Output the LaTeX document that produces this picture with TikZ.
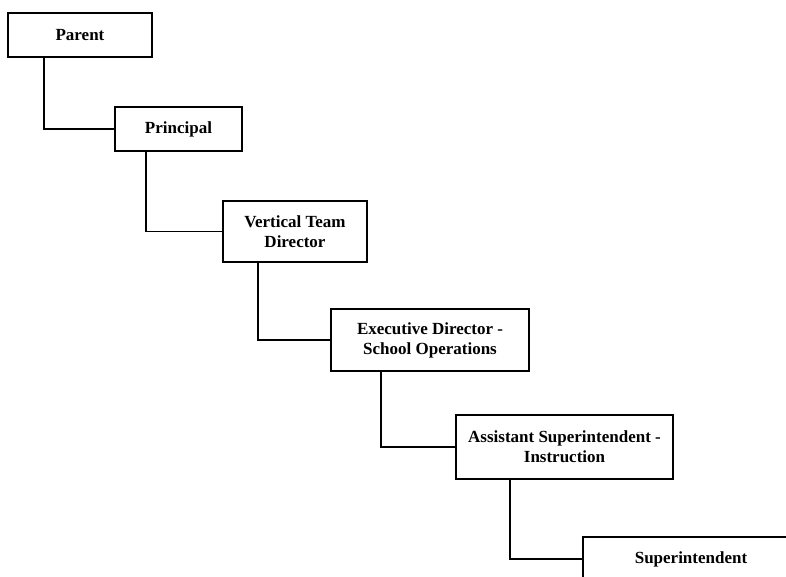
\documentclass[tikz,border=0pt]{standalone}
\usepackage{fontspec}
\setmainfont{Liberation Serif}
\begin{document}
\begin{tikzpicture}[x=1pt,y=-1pt,
  orgbox/.style={draw=black, line width=1.6pt, fill=white, inner sep=0pt,
    align=center, font=\fontsize{17}{20}\selectfont\bfseries},
  link/.style={draw=black, line width=1.6pt}]
  \useasboundingbox (0,0) rectangle (786,576);
  \clip (0,0) rectangle (786,576);

  % chain of boxes, each stepping down and to the right
  \node[orgbox, minimum width=144pt, minimum height=44pt] (parent) at (80,35) {Parent};
  \node[orgbox, minimum width=127pt, minimum height=44pt] (principal) at (178.5,129) {Principal};
  \node[orgbox, minimum width=144pt, minimum height=61pt] (vtd) at (295,231.5) {Vertical Team\\Director};
  \node[orgbox, minimum width=198pt, minimum height=62pt] (exec) at (430,340) {Executive Director -\\School Operations};
  \node[orgbox, minimum width=217pt, minimum height=64pt] (asst) at (564.5,447) {Assistant Superintendent -\\Instruction};
  \node[orgbox, minimum width=216pt, minimum height=44pt] (super) at (691,559) {Superintendent};

  % elbow connectors: down from each box, then across to the next one
  \draw[link] ([xshift=37pt]parent.south west) |- (principal.west);
  \draw[link] ([xshift=32pt]principal.south west) |- (vtd.west);
  \draw[link] ([xshift=36pt]vtd.south west) |- (exec.west);
  \draw[link] ([xshift=51pt]exec.south west) |- (asst.west);
  \draw[link] ([xshift=55pt]asst.south west) |- (super.west);
\end{tikzpicture}
\end{document}
